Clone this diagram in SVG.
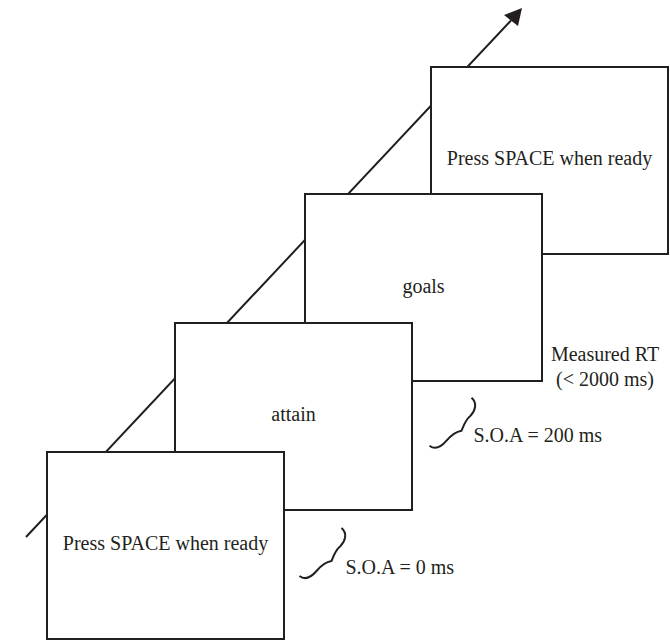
<svg xmlns="http://www.w3.org/2000/svg" width="670" height="640" viewBox="0 0 670 640">
  <defs>
    <style>
      .box { fill: #ffffff; stroke: #231f20; stroke-width: 2; }
      .lbl { font-family: "Liberation Serif", "Times New Roman", serif; font-size: 20px; fill: #231f20; }
      .mid { text-anchor: middle; }
      .conn { fill: none; stroke: #231f20; stroke-width: 2; }
    </style>
    <path id="squig" d="M0,0 C5,4 11,2 17,-5 C22,-11 26,-14 32,-15 C34,-20 36,-26 41,-30 C46,-35 48,-43 42,-48" />
  </defs>
  <rect width="670" height="640" fill="#ffffff"/>

  <g id="connectors">
    <line class="conn" x1="26" y1="537" x2="511" y2="20.5"/>
    <polygon points="522,8 504,15 518,26" fill="#231f20"/>
    <use href="#squig" class="conn" transform="translate(299.5,576)"/>
    <use href="#squig" class="conn" transform="translate(429.5,445.7)"/>
  </g>

  <g id="screen4">
    <rect class="box" x="431" y="67" width="237" height="187"/>
    <text class="lbl mid" x="549.5" y="165">Press SPACE when ready</text>
  </g>
  <g id="screen3">
    <rect class="box" x="305" y="194" width="237" height="187"/>
    <text class="lbl mid" x="423.5" y="293">goals</text>
  </g>
  <g id="screen2">
    <rect class="box" x="175" y="323" width="237" height="187"/>
    <text class="lbl mid" x="293.5" y="421">attain</text>
  </g>
  <g id="screen1">
    <rect class="box" x="47" y="452" width="237" height="187"/>
    <text class="lbl mid" x="165.5" y="550">Press SPACE when ready</text>
  </g>

  <g id="labels">
    <text class="lbl mid" x="605" y="361">Measured RT</text>
    <text class="lbl mid" x="605" y="386">(&lt; 2000 ms)</text>
    <text class="lbl" x="473.5" y="442">S.O.A = 200 ms</text>
    <text class="lbl" x="345.5" y="574">S.O.A = 0 ms</text>
  </g>
</svg>
